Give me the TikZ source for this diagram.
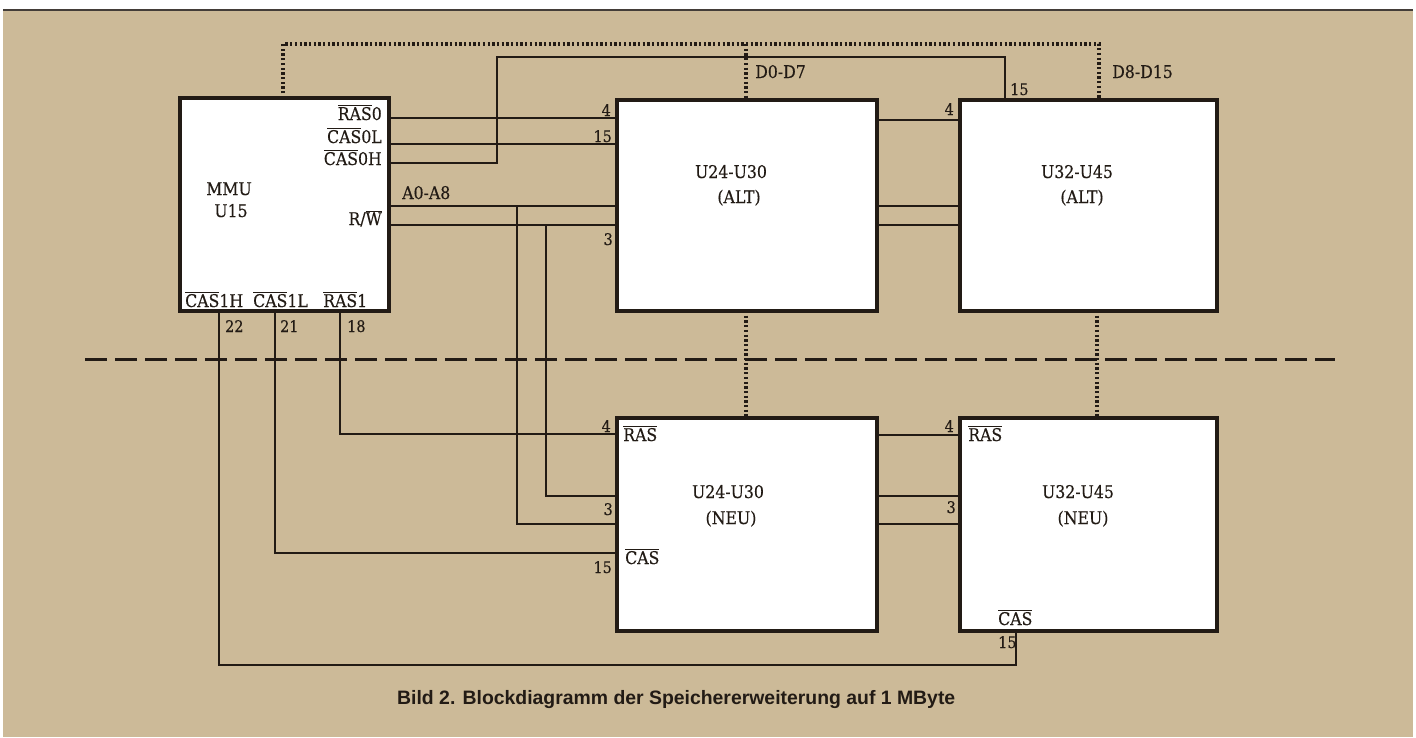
\documentclass[tikz,border=0pt]{standalone}
\usepackage{fontspec}
\setmainfont{DejaVu Serif Condensed}[FakeBold=0.3]
\newfontfamily\capfont{Liberation Sans}
\definecolor{paper}{RGB}{204,186,152}
\definecolor{ink}{RGB}{34,27,21}
\newcommand\ovl[1]{$\overline{\hbox{#1}}$}
\begin{document}
\begin{tikzpicture}[x=1pt,y=-1pt,
  box/.style={draw=ink, line width=3.5pt, fill=white, inner sep=0pt, outer sep=0pt, anchor=north west},
  sig/.style={draw=ink, line width=1.8pt},
  bus/.style={draw=ink, line width=2.6pt},
  dotline/.style={draw=ink, line width=3.4pt, dash pattern=on 2.3pt off 2.4pt},
  sepline/.style={draw=ink, line width=3pt, dash pattern=on 22pt off 8pt},
  lbl/.style={text=ink, font=\fontsize{17.5}{19}\selectfont, inner sep=0pt},
  num/.style={text=ink, font=\fontsize{16}{18}\selectfont, inner sep=0pt},
]
\useasboundingbox (0,0) rectangle (1416,737);
\fill[white] (0,0) rectangle (1416,737);
\fill[paper] (3,10) rectangle (1413,737);
\draw[ink!85, line width=1.5pt] (3,10) -- (1413,10);

% boxes
\node[box, minimum width=209pt, minimum height=213pt] (mmu) at (180,98) {};
\node[box, minimum width=260pt, minimum height=211pt] (alt1) at (617,100) {};
\node[box, minimum width=257pt, minimum height=211pt] (alt2) at (960,100) {};
\node[box, minimum width=260pt, minimum height=213pt] (neu1) at (617,418) {};
\node[box, minimum width=257pt, minimum height=213pt] (neu2) at (960,418) {};

% separator
\coordinate (sepL) at (85,359);
\coordinate (sepR) at (1335,359);
\draw[sepline] (sepL) -- (sepR);

% data bus (dotted)
\draw[dotline] (mmu.north -| 283,0) -- (283,44) -- (1099,44) -- (alt2.north -| 1099,0);
\draw[dotline] (746,44) -- (alt1.north -| 746,0);
\draw[dotline] (alt1.south -| 746,0) -- (neu1.north -| 746,0);
\draw[dotline] (alt2.south -| 1097,0) -- (neu2.north -| 1097,0);

% MMU right side signals
\draw[sig] (mmu.east |- 0,118) -- (alt1.west |- 0,118);
\draw[sig] (mmu.east |- 0,144) -- (alt1.west |- 0,144);
\draw[sig] (mmu.east |- 0,163) -- (497,163) -- (497,57) -- (1005,57) -- (alt2.north -| 1005,0);
\draw[bus] (mmu.east |- 0,206) -- (alt1.west |- 0,206);
\draw[sig] (mmu.east |- 0,225) -- (alt1.west |- 0,225);
\draw[bus] (517,206) |- (neu1.west |- 0,524);
\draw[sig] (546,225) |- (neu1.west |- 0,496);

% MMU bottom signals
\draw[sig] (mmu.south -| 219,0) -- (219,665) -- (1016,665) -- (neu2.south -| 1016,0);
\draw[sig] (mmu.south -| 275,0) |- (neu1.west |- 0,553);
\draw[sig] (mmu.south -| 340,0) |- (neu1.west |- 0,434);

% between ALT boxes
\draw[sig] (alt1.east |- 0,120) -- (alt2.west |- 0,120);
\draw[bus] (alt1.east |- 0,206) -- (alt2.west |- 0,206);
\draw[sig] (alt1.east |- 0,225) -- (alt2.west |- 0,225);
% between NEU boxes
\draw[sig] (neu1.east |- 0,435) -- (neu2.west |- 0,435);
\draw[sig] (neu1.east |- 0,496) -- (neu2.west |- 0,496);
\draw[bus] (neu1.east |- 0,524) -- (neu2.west |- 0,524);

% redraw box borders on top
\foreach \b in {mmu,alt1,alt2,neu1,neu2}{\draw[ink, line width=3.5pt] (\b.north west) rectangle (\b.south east);}

% MMU labels
\node[lbl, anchor=base] (tmmu) at (229,195) {MMU};
\node[lbl, anchor=base] (tu15) at (231,217) {U15};
\node[lbl, anchor=base east] (lras0) at (382,120) {\ovl{RAS}0};
\node[lbl, anchor=base east] (lcas0l) at (382,143) {\ovl{CAS}0L};
\node[lbl, anchor=base east] (lcas0h) at (382,165) {\ovl{CAS}0H};
\node[lbl, anchor=base east] (lrw) at (382,225) {R/\ovl{W}};
\node[lbl, anchor=base west] (la08) at (402,199) {A0-A8};
\node[lbl, anchor=base west] (lcas1h) at (185,307) {\ovl{CAS}1H};
\node[lbl, anchor=base west] (lcas1l) at (253,307) {\ovl{CAS}1L};
\node[lbl, anchor=base west] (lras1) at (323,307) {\ovl{RAS}1};
\node[num, anchor=base west] (n22) at (225,332) {22};
\node[num, anchor=base west] (n21) at (280,332) {21};
\node[num, anchor=base west] (n18) at (347,332) {18};

% pin numbers
\node[num, anchor=base east] at (611,116) {4};
\node[num, anchor=base east] at (612,142) {15};
\node[num, anchor=base east] at (613,245) {3};
\node[num, anchor=base west] at (1010,95) {15};
\node[num, anchor=base east] at (954,115) {4};
\node[num, anchor=base east] at (611,432) {4};
\node[num, anchor=base east] at (613,515) {3};
\node[num, anchor=base east] at (612,573) {15};
\node[num, anchor=base east] at (954,432) {4};
\node[num, anchor=base east] at (956,513) {3};
\node[num, anchor=base west] at (998,648) {15};

% bus names
\node[lbl, anchor=base west] (ld07) at (755,78) {D0-D7};
\node[lbl, anchor=base west] (ld815) at (1112,78) {D8-D15};

% box texts
\node[lbl, anchor=base] at (731,178) {U24-U30};
\node[lbl, anchor=base] at (739,203) {(ALT)};
\node[lbl, anchor=base] at (1077,178) {U32-U45};
\node[lbl, anchor=base] at (1082,203) {(ALT)};
\node[lbl, anchor=base] at (728,498) {U24-U30};
\node[lbl, anchor=base] at (731,524) {(NEU)};
\node[lbl, anchor=base] at (1078,498) {U32-U45};
\node[lbl, anchor=base] at (1083,524) {(NEU)};
\node[lbl, anchor=base west] at (623,441) {\ovl{RAS}};
\node[lbl, anchor=base west] at (625,564) {\ovl{CAS}};
\node[lbl, anchor=base west] at (968,441) {\ovl{RAS}};
\node[lbl, anchor=base west] at (998,625) {\ovl{CAS}};

% caption
\node[text=ink, inner sep=0pt, anchor=base west, font=\capfont\bfseries\fontsize{19.4}{21}\selectfont] (cap) at (397,704) {Bild 2. Blockdiagramm der Speichererweiterung auf 1 MByte};
\end{tikzpicture}
\end{document}
